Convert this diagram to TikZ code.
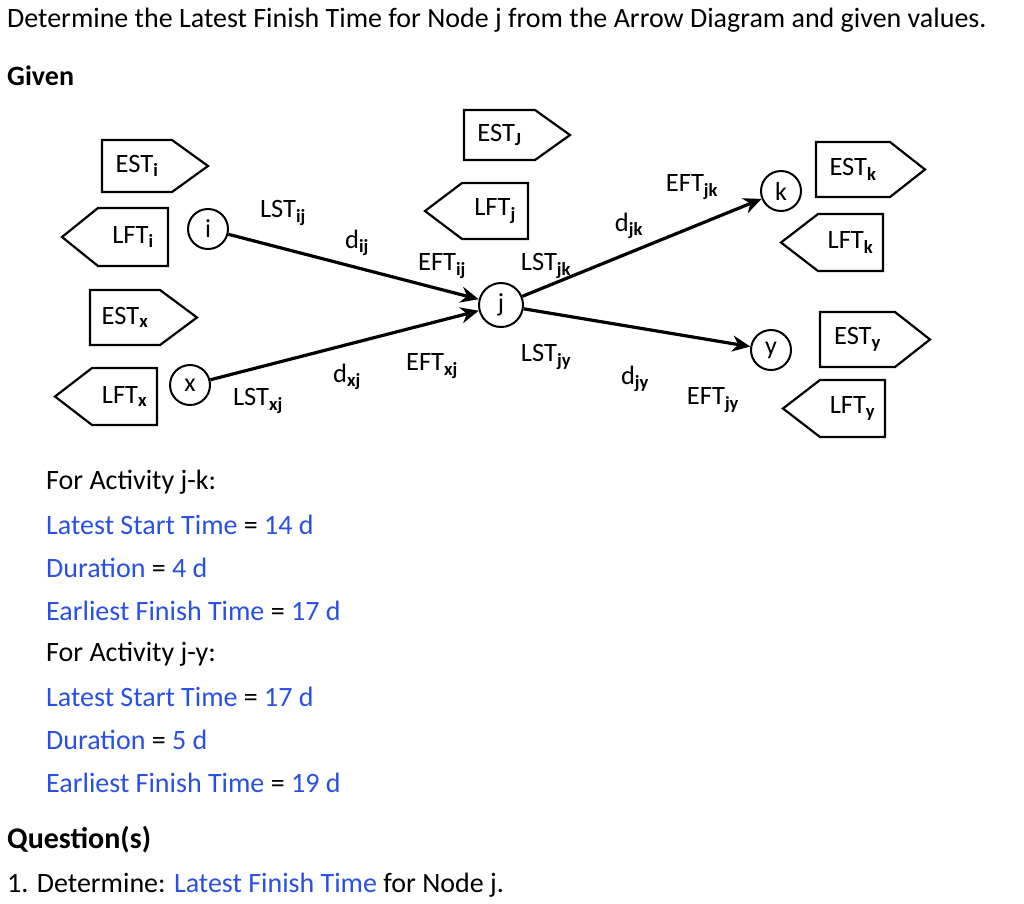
\documentclass[tikz,border=0pt]{standalone}
\usepackage{fontspec}
\setmainfont{Carlito}
\usetikzlibrary{arrows.meta,positioning}
\definecolor{termblue}{RGB}{40,80,230}
% right pointing tag: #1 name, #2 left, #3 top, #4 right, #5 bottom, #6 tip, #7 text
\newcommand{\rtag}[7]{%
  \draw[tagline] (#2,#3) -- (#4,#3) -- (#6,{(#3+#5)/2}) -- (#4,#5) -- (#2,#5) -- cycle;
  \node[tagtext] (#1) at ({(#2+#4)/2},{(#3+#5)/2}) {#7};}
\newcommand{\ltag}[7]{%
  \draw[tagline] (#4,#3) -- (#2,#3) -- (#6,{(#3+#5)/2}) -- (#2,#5) -- (#4,#5) -- cycle;
  \node[tagtext] (#1) at ({(#2+#4)/2},{(#3+#5)/2}) {#7};}
\begin{document}
\begin{tikzpicture}[x=1pt,y=-1pt,
    tagline/.style={line width=2.2pt,line join=miter},
    tagtext/.style={font=\fontsize{26.5}{30}\selectfont},
    evt/.style={circle,draw,line width=2pt,minimum size=40pt,inner sep=0pt,font=\fontsize{26}{30}\selectfont},
    act/.style={line width=3.2pt,-{Stealth[length=18pt,width=16pt,open]}},
    lbl/.style={font=\fontsize{26.5}{30}\selectfont},
    txt/.style={anchor=west,inner sep=0pt,font=\fontsize{28}{32}\selectfont}]
  \useasboundingbox (0,0) rectangle (1024,903);
  % header
  \node[txt] (title) at (7,20) {Determine the Latest Finish Time for Node j from the Arrow Diagram and given values.};
  \node[txt,font=\fontsize{28}{32}\selectfont\bfseries] (given) at (7,76) {Given};
  % tags
  \rtag{esti}{102}{140}{172}{192}{208}{EST$_{\mathbf{i}}$}
  \ltag{lfti}{98}{208}{168}{266}{62}{LFT$_{\mathbf{i}}$}
  \rtag{estx}{90}{290}{160}{345}{197}{EST$_{\mathbf{x}}$}
  \ltag{lftx}{92}{368}{157}{425}{55}{LFT$_{\mathbf{x}}$}
  \rtag{estj}{464}{110}{535}{160}{570}{EST$_{\mathbf{J}}$}
  \ltag{lftj}{462}{183}{528}{239}{425}{LFT$_{\mathbf{j}}$}
  \rtag{estk}{816}{142}{890}{197}{925}{EST$_{\mathbf{k}}$}
  \ltag{lftk}{818}{214}{883}{271}{781}{LFT$_{\mathbf{k}}$}
  \rtag{esty}{820}{312}{895}{367}{930}{EST$_{\mathbf{y}}$}
  \ltag{lfty}{820}{380}{885}{437}{783}{LFT$_{\mathbf{y}}$}
  % events
  \node[evt] (i) at (208,229) {i};
  \node[evt] (x) at (190,385) {x};
  \node[evt,minimum size=44pt] (j) at (501,305) {j};
  \node[evt] (k) at (781,191) {k};
  \node[evt] (y) at (771,350) {y};
  % activities
  \draw[act] (i) -- (j);
  \draw[act] (x) -- (j);
  \draw[act] (j) -- (k);
  \draw[act] (j) -- (y);
  % activity labels
  \node[lbl] (lstij) at (283,213) {LST$_{\mathbf{ij}}$};
  \node[lbl] (dij) at (357,243) {d$_{\mathbf{ij}}$};
  \node[lbl] (eftij) at (442,266) {EFT$_{\mathbf{ij}}$};
  \node[lbl] (eftxj) at (432,366) {EFT$_{\mathbf{xj}}$};
  \node[lbl] (dxj) at (347,377) {d$_{\mathbf{xj}}$};
  \node[lbl] (lstxj) at (258,401) {LST$_{\mathbf{xj}}$};
  \node[lbl] (lstjk) at (546,266) {LST$_{\mathbf{jk}}$};
  \node[lbl] (djk) at (629,226) {d$_{\mathbf{jk}}$};
  \node[lbl] (eftjk) at (692,187) {EFT$_{\mathbf{jk}}$};
  \node[lbl] (lstjy) at (546,357) {LST$_{\mathbf{jy}}$};
  \node[lbl] (djy) at (635,379) {d$_{\mathbf{jy}}$};
  \node[lbl] (eftjy) at (713,400) {EFT$_{\mathbf{jy}}$};
  % given values
  \node[txt] (l1) at (46,482) {For Activity j-k:};
  \node[txt] (l2) at (46,525) {\textcolor{termblue}{Latest Start Time} = \textcolor{termblue}{14 d}};
  \node[txt] (l3) at (46,568) {\textcolor{termblue}{Duration} = \textcolor{termblue}{4 d}};
  \node[txt] (l4) at (46,611) {\textcolor{termblue}{Earliest Finish Time} = \textcolor{termblue}{17 d}};
  \node[txt] (l5) at (46,654) {For Activity j-y:};
  \node[txt] (l6) at (46,697) {\textcolor{termblue}{Latest Start Time} = \textcolor{termblue}{17 d}};
  \node[txt] (l7) at (46,740) {\textcolor{termblue}{Duration} = \textcolor{termblue}{5 d}};
  \node[txt] (l8) at (46,783) {\textcolor{termblue}{Earliest Finish Time} = \textcolor{termblue}{19 d}};
  % question
  \node[txt,font=\fontsize{30}{34}\selectfont\bfseries] (q) at (7,840) {Question(s)};
  \node[txt] (q1) at (7,885) {1. Determine: \textcolor{termblue}{Latest Finish Time} for Node j.};
\end{tikzpicture}
\end{document}
